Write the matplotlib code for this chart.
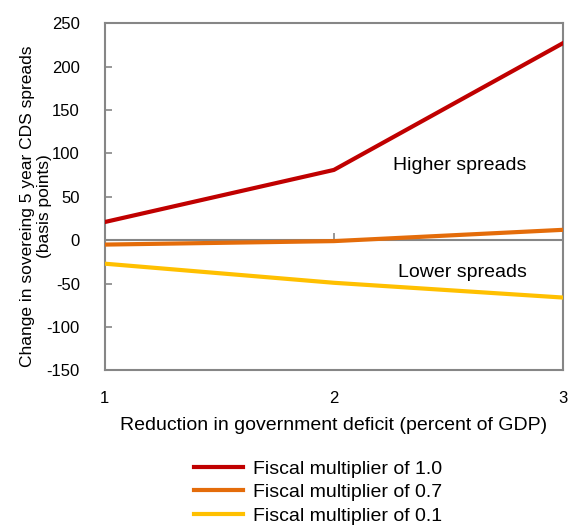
import matplotlib.pyplot as plt

plt.rcParams['font.family'] = ['Liberation Sans', 'DejaVu Sans']
plt.rcParams['axes.unicode_minus'] = False

deficit_cut = [1, 2, 3]
mult_10 = [21, 81, 227]
mult_07 = [-5, -1, 12]
mult_01 = [-27, -49, -66]
series_labels = ['Fiscal multiplier of 1.0', 'Fiscal multiplier of 0.7', 'Fiscal multiplier of 0.1']
y_ticks = [-150, -100, -50, 0, 50, 100, 150, 200, 250]

grey = '#868686'
fs = 14

fig = plt.figure(figsize=(5.73, 5.27), dpi=100)
ax = fig.add_axes([0.183, 0.297, 0.7995, 0.659])

ax.axhline(0, color=grey, linewidth=1.5, zorder=1)
ax.plot(deficit_cut, mult_10, color='#C00000', linewidth=3, label=series_labels[0], zorder=3)
ax.plot(deficit_cut, mult_07, color='#E46C0A', linewidth=3, label=series_labels[1], zorder=3)
ax.plot(deficit_cut, mult_01, color='#FFC000', linewidth=3, label=series_labels[2], zorder=3)

ax.set_xlim(1, 3)
ax.set_ylim(-150, 250)
ax.set_yticks(y_ticks)
ax.set_xticks(deficit_cut)

for sp in ax.spines.values():
    sp.set_color(grey)
    sp.set_linewidth(1.5)

ax.tick_params(axis='y', direction='in', length=5, width=1.2, color=grey,
               labelsize=12, pad=18)
ax.tick_params(axis='x', length=0, labelsize=12, pad=15)

# x ticks sit on the zero line (axes fraction 150/400)
sec = ax.secondary_xaxis(0.375)
sec.set_xticks(deficit_cut)
sec.tick_params(direction='in', length=5, width=1.2, color=grey,
                labelbottom=False, labeltop=False)
for sp in sec.spines.values():
    sp.set_visible(False)

ax.text(2.55, 86, 'Higher spreads', fontsize=fs, ha='center', va='center')
ax.text(2.56, -37, 'Lower spreads', fontsize=fs, ha='center', va='center')

ax.set_xlabel('Reduction in government deficit (percent of GDP)', fontsize=fs, labelpad=8)
ax.set_ylabel('Change in sovereing 5 year CDS spreads\n(basis points)', fontsize=12.5,
              linespacing=1.15)
ax.yaxis.set_label_coords(-0.115, 0.473)

fig.legend(loc='upper center', bbox_to_anchor=(0.555, 0.16), frameon=False,
           fontsize=fs, handlelength=2.5, labelspacing=0.3, handletextpad=0.5)

fig.savefig('out.png', dpi=100)
